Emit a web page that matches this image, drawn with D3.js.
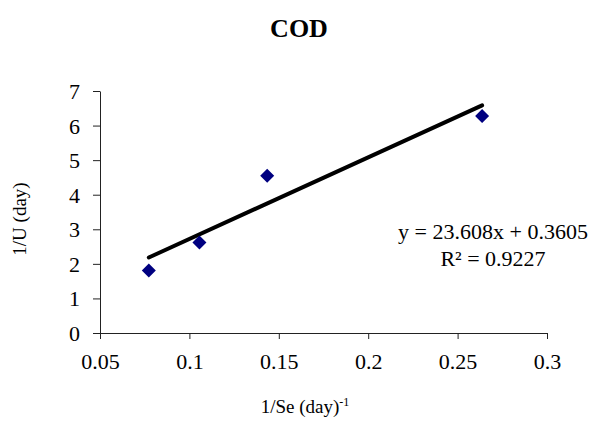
<!DOCTYPE html>
<html>
<head>
<meta charset="utf-8">
<script src="https://cdn.jsdelivr.net/npm/d3@7"></script>
<style>
  body { margin: 0; background: #fff; }
  svg { display: block; font-family: "Liberation Serif", "Times New Roman", serif; }
</style>
</head>
<body>
<div id="chart"></div>
<script>
// data
const seInv = [0.0773, 0.1056, 0.1435, 0.2637]   // 1/Se (day)^-1
const uInv = [1.81, 2.62, 4.55, 6.28]            // 1/U (day)
const xTicks = [0.05, 0.1, 0.15, 0.2, 0.25, 0.3]
const yTicks = [0, 1, 2, 3, 4, 5, 6, 7]
const slope = 23.608
const intercept = 0.3605
const eqLines = ["y = 23.608x + 0.3605", "R² = 0.9227"]

const width = 602,
      height = 422,
      marginTop = 91,
      marginRight = 55,
      marginBottom = 89,
      marginLeft = 100

const xScale = d3.scaleLinear([0.05, 0.3], [marginLeft, width - marginRight])
const yScale = d3.scaleLinear([0, 7], [height - marginBottom, marginTop])

const svg = d3.select("#chart").append("svg")
      .attr("width", width)
      .attr("height", height)
      .attr("viewBox", [0, 0, width, height])

// title
svg.append("text")
      .attr("x", 299)
      .attr("y", 37)
      .attr("text-anchor", "middle")
      .attr("font-size", 26)
      .attr("font-weight", "bold")
      .text("COD")

// x axis
svg.append("g")
      .attr("transform", `translate(0,${height - marginBottom})`)
      .call(d3.axisBottom(xScale).tickValues(xTicks).tickFormat(d3.format("")).tickSize(6).tickSizeOuter(0))
      .call(g => g.select(".domain").attr("stroke", "#222"))
      .call(g => g.selectAll(".tick line").attr("stroke", "#222"))
      .call(g => g.selectAll(".tick text")
            .attr("font-family", "Liberation Serif, serif")
            .attr("font-size", 22)
            .attr("fill", "#000")
            .attr("dy", null)
            .attr("y", 36))

// y axis
svg.append("g")
      .attr("transform", `translate(${marginLeft},0)`)
      .call(d3.axisLeft(yScale).tickValues(yTicks).tickFormat(d3.format("d")).tickSize(7).tickSizeOuter(0))
      .call(g => g.select(".domain").attr("stroke", "#222"))
      .call(g => g.selectAll(".tick line").attr("stroke", "#222"))
      .call(g => g.selectAll(".tick text")
            .attr("font-family", "Liberation Serif, serif")
            .attr("font-size", 22)
            .attr("fill", "#000")
            .attr("x", -20)
            .attr("dy", "0.34em"))

// axis titles
const xTitle = svg.append("text")
      .attr("x", 305)
      .attr("y", 413)
      .attr("text-anchor", "middle")
      .attr("font-size", 19)
xTitle.append("tspan").text("1/Se (day)")
xTitle.append("tspan")
      .attr("font-size", 12)
      .attr("dy", -7)
      .text("-1")

svg.append("text")
      .attr("transform", "translate(26,219) rotate(-90)")
      .attr("text-anchor", "middle")
      .attr("font-size", 19)
      .text("1/U (day)")

// trendline over the range of the data
const xExt = d3.extent(seInv)
svg.append("line")
      .attr("x1", xScale(xExt[0]))
      .attr("y1", yScale(slope * xExt[0] + intercept))
      .attr("x2", xScale(xExt[1]))
      .attr("y2", yScale(slope * xExt[1] + intercept))
      .attr("stroke", "#000")
      .attr("stroke-width", 4)
      .attr("stroke-linecap", "round")

// diamond markers
svg.append("g")
      .attr("fill", "#000080")
      .selectAll("path")
      .data(d3.range(seInv.length))
      .join("path")
      .attr("transform", i => `translate(${xScale(seInv[i])},${yScale(uInv[i])})`)
      .attr("d", "M0,-7L7,0L0,7L-7,0Z")

// equation label
svg.append("g")
      .selectAll("text")
      .data(eqLines)
      .join("text")
      .attr("x", 493)
      .attr("y", (d, i) => 239 + i * 27)
      .attr("text-anchor", "middle")
      .attr("font-size", 22)
      .text(d => d)
</script>
</body>
</html>
